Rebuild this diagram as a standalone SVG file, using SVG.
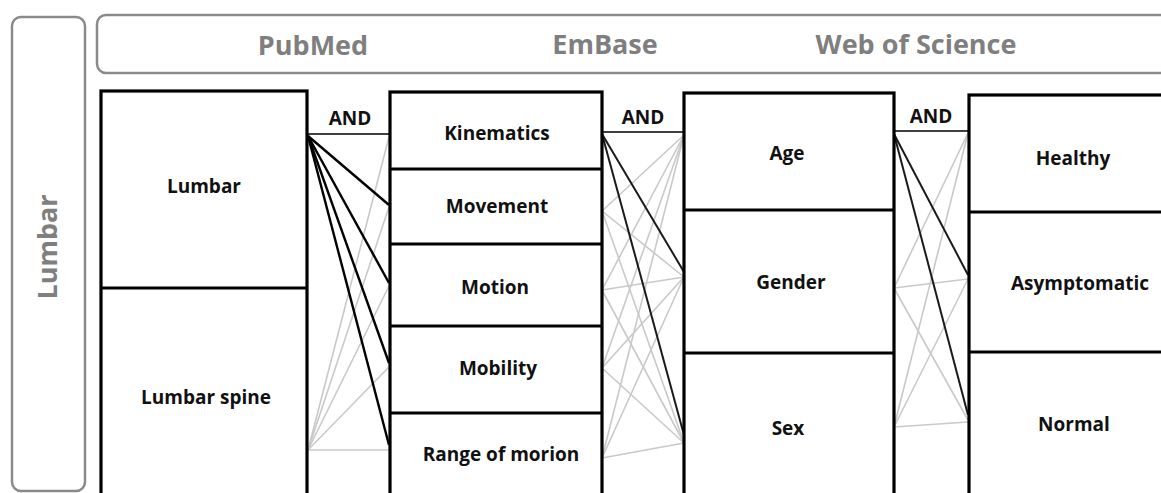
<svg xmlns="http://www.w3.org/2000/svg" width="1161" height="493" viewBox="0 0 1161 493">
<style>
.frame{fill:#fff;stroke:#8a8a8a;stroke-width:2.5}
.box{fill:#fff;stroke:#000;stroke-width:3.2}
.div{stroke:#000;stroke-width:3.2}
.hdr{font-family:"Open Sans","Noto Sans",sans-serif;font-weight:bold;font-size:27px;fill:#7f7f7f;text-anchor:middle}
.lbl{font-family:"Open Sans","Noto Sans",sans-serif;font-weight:bold;font-size:19px;fill:#111;text-anchor:middle}
.and{stroke:#000;stroke-width:1.6}
.blk{stroke:#000;stroke-width:2.4;fill:none}
.blk2{stroke:#1a1a1a;stroke-width:2;fill:none}
.gry{stroke:#c9c9c9;stroke-width:1.6;fill:none}
</style>
<rect width="1161" height="493" fill="#fff"/>
<g id="side">
<rect class="frame" x="12" y="17" width="73" height="474" rx="9"/>
<text class="hdr" font-size="28" transform="translate(57,247) rotate(-90)">Lumbar</text>
</g>
<g id="databases">
<rect class="frame" x="97" y="15" width="1100" height="58" rx="9"/>
<text class="hdr" x="313" y="55">PubMed</text>
<text class="hdr" x="605" y="54">EmBase</text>
<text class="hdr" x="916" y="54">Web of Science</text>
</g>
<g id="connectors">
<line class="and" x1="307" y1="134" x2="390" y2="134"/>
<line class="and" x1="602" y1="132" x2="684" y2="132"/>
<line class="and" x1="894" y1="131" x2="969" y2="131"/>
<g class="gry">
<line x1="308" y1="450" x2="389" y2="137"/>
<line x1="308" y1="450" x2="389" y2="207"/>
<line x1="308" y1="450" x2="389" y2="286"/>
<line x1="308" y1="450" x2="389" y2="367"/>
<line x1="308" y1="450" x2="389" y2="450"/>
<line x1="602" y1="211" x2="684" y2="135"/>
<line x1="602" y1="211" x2="684" y2="277"/>
<line x1="602" y1="211" x2="684" y2="443"/>
<line x1="602" y1="290" x2="684" y2="135"/>
<line x1="602" y1="290" x2="684" y2="277"/>
<line x1="602" y1="290" x2="684" y2="443"/>
<line x1="602" y1="368" x2="684" y2="135"/>
<line x1="602" y1="368" x2="684" y2="277"/>
<line x1="602" y1="368" x2="684" y2="443"/>
<line x1="602" y1="458" x2="684" y2="135"/>
<line x1="602" y1="458" x2="684" y2="277"/>
<line x1="602" y1="458" x2="684" y2="443"/>
<line x1="894" y1="288" x2="968" y2="133"/>
<line x1="894" y1="288" x2="968" y2="279"/>
<line x1="894" y1="288" x2="968" y2="420"/>
<line x1="894" y1="427" x2="968" y2="133"/>
<line x1="894" y1="427" x2="968" y2="279"/>
<line x1="894" y1="427" x2="968" y2="422"/>
</g>
<g class="blk">
<line x1="308" y1="136" x2="389" y2="205"/>
<line x1="308" y1="136" x2="389" y2="283"/>
<line x1="308" y1="136" x2="389" y2="363"/>
<line x1="308" y1="136" x2="389" y2="445"/>
</g>
<g class="blk2">
<line x1="602" y1="134" x2="684" y2="272"/>
<line x1="602" y1="134" x2="684" y2="435"/>
<line x1="894" y1="134" x2="968" y2="275"/>
<line x1="894" y1="134" x2="968" y2="415"/>
</g>
</g>
<g id="col-anatomy">
<rect class="box" x="101" y="91" width="206" height="420"/>
<line class="div" x1="101" y1="288" x2="307" y2="288"/>
<g id="n-lumbar"><text class="lbl" x="204" y="193">Lumbar</text></g>
<g id="n-lumbar-spine"><text class="lbl" x="206" y="404">Lumbar spine</text></g>
</g>
<g id="col-motion">
<rect class="box" x="390" y="92" width="212" height="420"/>
<line class="div" x1="390" y1="169" x2="602" y2="169"/>
<line class="div" x1="390" y1="244" x2="602" y2="244"/>
<line class="div" x1="390" y1="326" x2="602" y2="326"/>
<line class="div" x1="390" y1="413" x2="602" y2="413"/>
<g id="n-kinematics"><text class="lbl" x="497" y="140">Kinematics</text></g>
<g id="n-movement"><text class="lbl" x="497" y="213">Movement</text></g>
<g id="n-motion"><text class="lbl" x="495" y="294">Motion</text></g>
<g id="n-mobility"><text class="lbl" x="498" y="375">Mobility</text></g>
<g id="n-rom"><text class="lbl" x="501" y="461">Range of morion</text></g>
</g>
<g id="col-demographics">
<rect class="box" x="684" y="93" width="210" height="420"/>
<line class="div" x1="684" y1="210" x2="894" y2="210"/>
<line class="div" x1="684" y1="353" x2="894" y2="353"/>
<g id="n-age"><text class="lbl" x="787" y="160">Age</text></g>
<g id="n-gender"><text class="lbl" x="791" y="289">Gender</text></g>
<g id="n-sex"><text class="lbl" x="788" y="435">Sex</text></g>
</g>
<g id="col-status">
<rect class="box" x="969" y="95" width="220" height="420"/>
<line class="div" x1="969" y1="212" x2="1189" y2="212"/>
<line class="div" x1="969" y1="352" x2="1189" y2="352"/>
<g id="n-healthy"><text class="lbl" x="1073" y="165">Healthy</text></g>
<g id="n-asymptomatic"><text class="lbl" x="1080" y="290">Asymptomatic</text></g>
<g id="n-normal"><text class="lbl" x="1074" y="431">Normal</text></g>
</g>
<g id="and-labels">
<text class="lbl" x="350" y="125">AND</text>
<text class="lbl" x="643" y="124">AND</text>
<text class="lbl" x="931" y="123">AND</text>
</g>
</svg>
